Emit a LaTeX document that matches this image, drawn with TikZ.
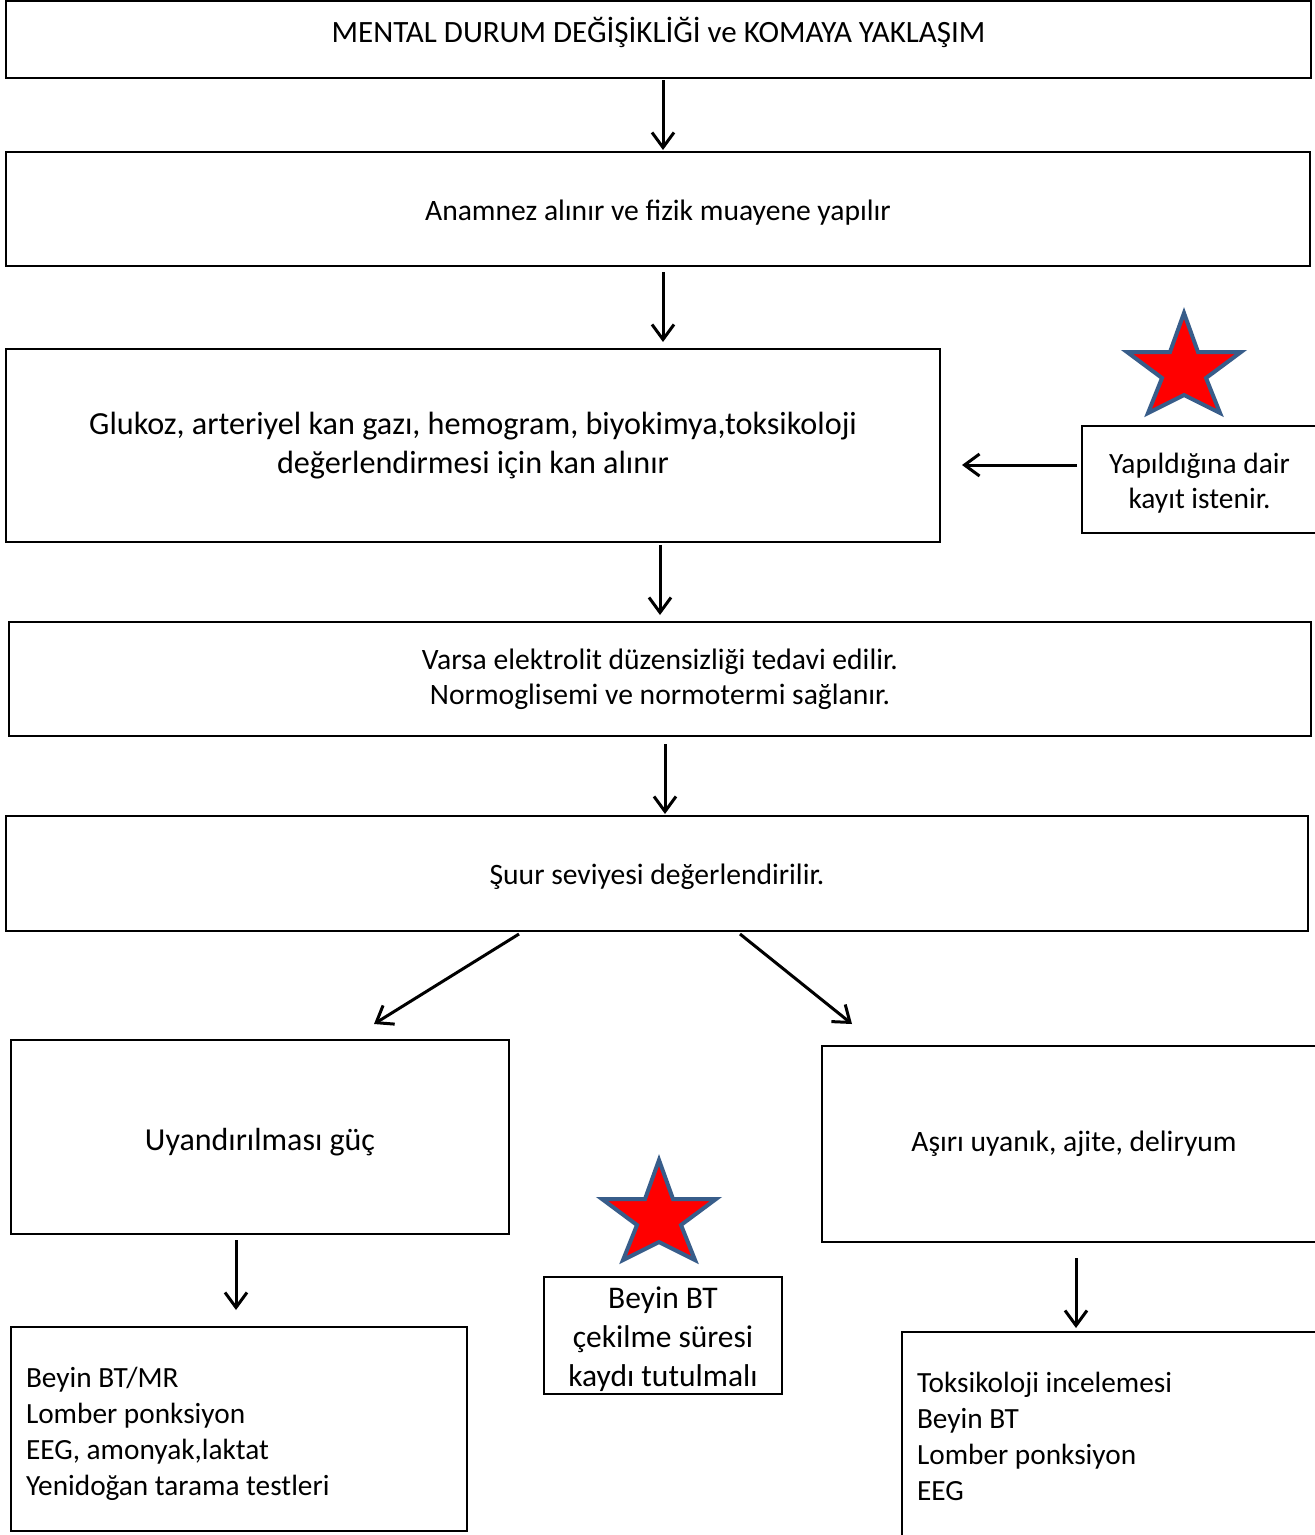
\documentclass[tikz,border=0pt]{standalone}
\usepackage{fontspec}
\setmainfont{Carlito}
\usetikzlibrary{arrows.meta,calc}
\definecolor{starblue}{RGB}{56,93,138}
\definecolor{starred}{RGB}{255,0,0}
\tikzset{
  box/.style={draw=black, line width=2.5pt, fill=white, inner sep=0pt, outer sep=0pt, align=center, font=\fontsize{29.6}{35}\selectfont},
  bigtext/.style={font=\fontsize{32.2}{39}\selectfont},
  listbox/.style={box, align=flush left, inner xsep=15pt, font=\fontsize{29.3}{36}\selectfont},
  arr/.style={line width=3pt, -{Straight Barb[length=15pt,width=22pt,line width=3pt]}},
  starshape/.style={fill=starred, draw=starblue, line width=4pt, line join=miter}
}
\newcommand{\mystar}[2]{%
  \draw[starshape] ($(#1,#2)+(0,-53)$) -- ++(14,39) -- ++(43,0) -- ($(#1,#2)+(22,12)$) -- ($(#1,#2)+(36,47)$) -- ($(#1,#2)+(0,29)$) -- ($(#1,#2)+(-36,47)$) -- ($(#1,#2)+(-22,12)$) -- ($(#1,#2)+(-57,-14)$) -- ($(#1,#2)+(-14,-14)$) -- cycle;}
\begin{document}
\begin{tikzpicture}[x=1pt,y=-1pt]
\fill[white] (0,0) rectangle (1315,1535);
\useasboundingbox (0,0) rectangle (1315,1535);

\node[box, font=\fontsize{31}{37}\selectfont, minimum width=1305pt, minimum height=77pt] (b1) at (658.5,39.5) {\raisebox{-2.5pt}[0pt][0pt]{MENTAL DURUM DEĞİŞİKLİĞİ ve KOMAYA YAKLAŞIM}};
\node[box, minimum width=1304pt, minimum height=114pt] (b2) at (658,209) {\rule{0pt}{27pt}Anamnez alınır ve fizik muayene yapılır};
\node[box, bigtext, minimum width=934pt, minimum height=193pt] (b3) at (473,445.5) {Glukoz, arteriyel kan gazı, hemogram, biyokimya,toksikoloji\\değerlendirmesi için kan alınır};
\node[box, font=\fontsize{29.4}{35}\selectfont, minimum width=235pt, minimum height=107pt] (b4) at (1199.5,479.5) {\rule{0pt}{27pt}Yapıldığına dair\\kayıt istenir.};
\node[box, minimum width=1302pt, minimum height=114pt] (b5) at (660,679) {Varsa elektrolit düzensizliği tedavi edilir.\\Normoglisemi ve normotermi sağlanır.};
\node[box, minimum width=1302pt, minimum height=115pt] (b6) at (657,873.5) {\rule{0pt}{27pt}Şuur seviyesi değerlendirilir.};
\node[box, font=\fontsize{32}{39}\selectfont, minimum width=498pt, minimum height=194pt] (b7) at (260,1137) {\raisebox{-13pt}[0pt][0pt]{Uyandırılması güç}};
\node[box, minimum width=495pt, minimum height=196pt] (b8) at (1069.5,1144) {\hspace*{9pt}Aşırı uyanık, ajite, deliryum};
\node[box, font=\fontsize{31.5}{39}\selectfont, minimum width=238pt, minimum height=117pt] (b9) at (663,1335.5) {\rule{0pt}{30pt}Beyin BT\\çekilme süresi\\kaydı tutulmalı};
\node[listbox, text width=426pt, minimum height=204pt] (b10) at (239,1429) {\rule{0pt}{30pt}Beyin BT/MR\\Lomber ponksiyon\\EEG, amonyak,laktat\\Yenidoğan tarama testleri};
\node[listbox, text width=385pt, minimum height=208pt] (b11) at (1109.5,1436) {Toksikoloji incelemesi\\Beyin BT\\Lomber ponksiyon\\EEG};

\mystar{1184}{366}
\mystar{659}{1213}

\draw[arr] ($(b1.south)+(4.5,2)$) -- ($(b2.north)+(5,-2)$);
\draw[arr] ($(b2.south)+(5,6)$) -- ($(b3.north)+(190,-7)$);
\draw[arr] ($(b3.south)+(187,3)$) -- ($(b5.north)+(0,-7)$);
\draw[arr] ($(b5.south)+(5,8)$) -- ($(b6.north)+(8,-2)$);
\draw[arr] ($(b6.south)+(-138,3)$) -- ($(b7.north)+(114,-16)$);
\draw[arr] ($(b6.south)+(83,3)$) -- ($(b8.north)+(-217.5,-22)$);
\draw[arr] ($(b4.west)+(-5,-14.5)$) -- ($(b3.east)+(22,19.5)$);
\draw[arr] ($(b7.south)+(-24,6)$) -- ($(b10.north)+(-3,-17)$);
\draw[arr] ($(b8.south)+(6.5,16)$) -- ($(b11.north)+(-33.5,-4)$);
\end{tikzpicture}
\end{document}
